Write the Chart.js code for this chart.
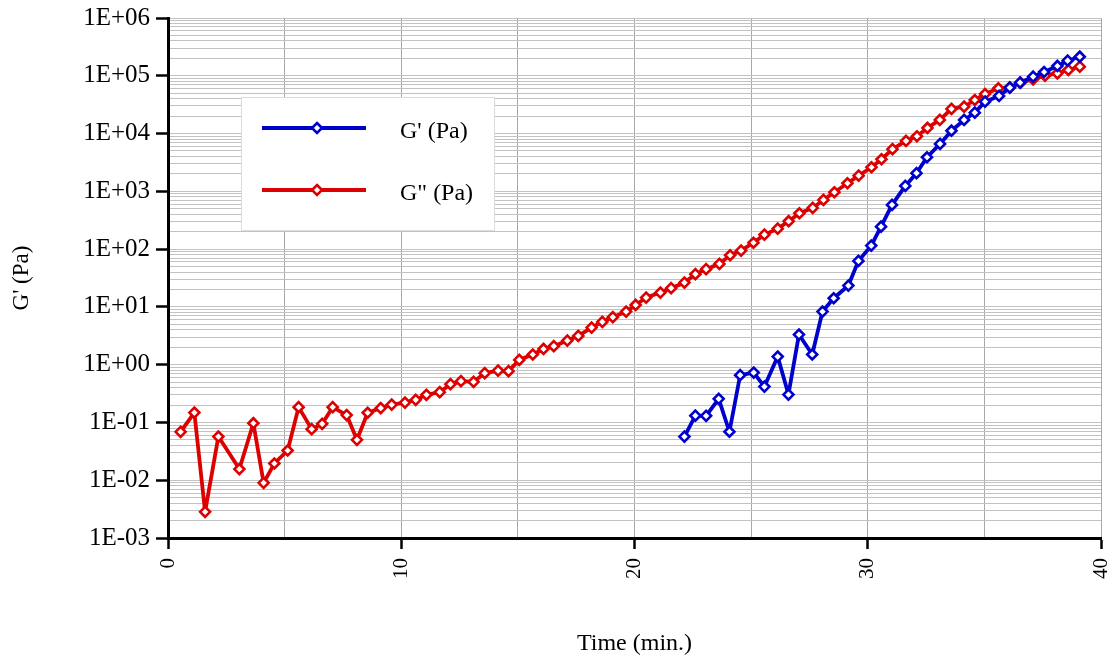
<!DOCTYPE html>
<html>
<head>
<meta charset="utf-8">
<script src="https://cdn.jsdelivr.net/npm/chart.js@4/dist/chart.umd.min.js"></script>
<style>
  html, body { margin: 0; padding: 0; background: #fff; }
  #wrap { width: 1116px; height: 658px; }
</style>
</head>
<body>
<div id="wrap"><canvas id="c" width="1116" height="658"></canvas></div>
<script>
// G' (Pa) - storage modulus
const gpTime = [22.14, 22.61, 23.07, 23.61, 24.07, 24.53, 25.11, 25.57, 26.14, 26.60, 27.05, 27.62, 28.06, 28.54,
  29.17, 29.60, 30.15, 30.57, 31.04, 31.61, 32.09, 32.54, 33.10, 33.59, 34.13, 34.59, 35.03, 35.63, 36.09, 36.53,
  37.09, 37.56, 38.13, 38.57, 39.09];
const gpVal = [0.057, 0.131, 0.130, 0.256, 0.069, 0.658, 0.729, 0.418, 1.38, 0.304, 3.32, 1.50, 8.30, 14.1,
  23.4, 62.5, 115, 245, 582, 1240, 2060, 3890, 6610, 11200, 17200, 23000, 35600, 44800, 62200, 76000,
  96400, 116400, 147900, 182400, 213800];

// G'' (Pa) - loss modulus
const gppTime = [0.54, 1.13, 1.59, 2.16, 3.06, 3.66, 4.10, 4.56, 5.13, 5.60, 6.16, 6.61, 7.06, 7.66, 8.10, 8.56,
  9.12, 9.59, 10.16, 10.62, 11.08, 11.65, 12.11, 12.56, 13.10, 13.58, 14.15, 14.60, 15.06, 15.64, 16.10, 16.54,
  17.12, 17.59, 18.16, 18.62, 19.07, 19.64, 20.05, 20.50, 21.11, 21.57, 22.14, 22.61, 23.07, 23.64, 24.10, 24.57,
  25.10, 25.57, 26.14, 26.61, 27.07, 27.64, 28.10, 28.57, 29.13, 29.61, 30.16, 30.59, 31.06, 31.64, 32.11, 32.56,
  33.09, 33.59, 34.13, 34.59, 35.03, 35.60, 36.09, 36.55, 37.09, 37.60, 38.13, 38.60, 39.09];
const gppVal = [0.0687, 0.148, 0.00284, 0.057, 0.0156, 0.097, 0.0090, 0.0195, 0.0327, 0.184, 0.0766, 0.0946, 0.184, 0.134, 0.050, 0.147,
  0.177, 0.204, 0.221, 0.246, 0.301, 0.334, 0.460, 0.518, 0.504, 0.713, 0.791, 0.773, 1.21, 1.50, 1.87, 2.09,
  2.61, 3.15, 4.39, 5.50, 6.64, 8.30, 10.8, 14.5, 17.7, 21.1, 26.3, 36.8, 44.9, 55.5, 78.3, 94.2,
  129, 178, 226, 304, 418, 516, 710, 964, 1380, 1870, 2610, 3590, 5360, 7450, 8970, 12500,
  17200, 26700, 29200, 38100, 48400, 60800, 63100, 75900, 86900, 100500, 110400, 126000, 143600];

const seriesNames = ["G' (Pa)", 'G" (Pa)'];
const seriesColors = ['#0000cc', '#dd0000'];

const FONT = 'Liberation Serif';

function fmtExp(v) {
    const e = Math.round(Math.log10(v));
    return '1E' + (e < 0 ? '-' : '+') + String(Math.abs(e)).padStart(2, '0');
}

function makeSet(label, color, xs, ys) {
    return {
        label: label,
        data: xs.map((x, i) => ({ x: x, y: ys[i] })),
        borderColor: color,
        backgroundColor: color,
        borderWidth: 3.8,
        borderJoinStyle: 'round',
        tension: 0,
        pointStyle: 'rectRot',
        pointRadius: 5,
        pointBorderWidth: 2.6,
        pointBorderColor: color,
        pointBackgroundColor: '#fff'
    };
}

// legend box drawn inside the plot, like the original
const legendBox = {
    id: 'legendBox',
    afterDraw(chart) {
        const ctx = chart.ctx;
        ctx.save();
        ctx.fillStyle = '#fff';
        ctx.fillRect(241, 97, 254, 134);
        ctx.strokeStyle = '#dcdcdc';
        ctx.lineWidth = 1;
        ctx.strokeRect(241.5, 97.5, 253, 133);
        const rows = [128, 190];
        rows.forEach((y, i) => {
            const col = seriesColors[i];
            ctx.strokeStyle = col;
            ctx.lineWidth = 3.8;
            ctx.beginPath();
            ctx.moveTo(262, y);
            ctx.lineTo(366, y);
            ctx.stroke();
            ctx.beginPath();
            ctx.moveTo(317, y - 5);
            ctx.lineTo(322, y);
            ctx.lineTo(317, y + 5);
            ctx.lineTo(312, y);
            ctx.closePath();
            ctx.fillStyle = '#fff';
            ctx.fill();
            ctx.lineWidth = 2.6;
            ctx.stroke();
            ctx.fillStyle = '#000';
            ctx.font = '24px "' + FONT + '"';
            ctx.textBaseline = 'middle';
            ctx.textAlign = 'left';
            ctx.fillText(seriesNames[i], 400, y + 4);
        });
        ctx.restore();
    }
};

new Chart(document.getElementById('c'), {
    type: 'line',
    data: {
        datasets: [
            makeSet(seriesNames[0], seriesColors[0], gpTime, gpVal),
            makeSet(seriesNames[1], seriesColors[1], gppTime, gppVal)
        ]
    },
    plugins: [legendBox],
    options: {
        responsive: false,
        animation: false,
        layout: { padding: { left: 0, top: 18, right: 15, bottom: 0 } },
        plugins: {
            legend: { display: false },
            tooltip: { enabled: false }
        },
        scales: {
            x: {
                type: 'linear',
                min: 0,
                max: 40,
                afterFit: s => { s.height = 120; s.paddingLeft = 0; s.paddingRight = 0; },
                border: { display: true, color: '#000', width: 3 },
                grid: {
                    color: '#a8a8a8',
                    lineWidth: 1,
                    tickLength: 11,
                    tickWidth: 2.5,
                    tickColor: c => (c.tick && c.tick.value % 10 === 0) ? '#000' : 'rgba(0,0,0,0)'
                },
                ticks: {
                    stepSize: 5,
                    autoSkip: false,
                    minRotation: 90,
                    maxRotation: 90,
                    padding: 9,
                    color: '#000',
                    font: { family: FONT, size: 21 },
                    callback: v => (v % 10 === 0 ? String(v) : '')
                },
                title: {
                    display: true,
                    text: 'Time (min.)',
                    color: '#000',
                    font: { family: FONT, size: 24 },
                    padding: { top: 0, bottom: 0 }
                }
            },
            y: {
                type: 'logarithmic',
                min: 1e-3,
                max: 1e6,
                afterFit: s => { s.width = 168; s.paddingTop = 0; s.paddingBottom = 0; },
                afterBuildTicks: s => {
                    const t = [];
                    for (let e = -3; e <= 5; e++) {
                        for (let m = 1; m <= 9; m++) {
                            t.push({ value: m * Math.pow(10, e), major: m === 1 });
                        }
                    }
                    t.push({ value: 1e6, major: true });
                    s.ticks = t;
                },
                border: { display: true, color: '#000', width: 3 },
                grid: {
                    color: '#c2c2c2',
                    lineWidth: 1,
                    tickLength: 12,
                    tickWidth: 2.5,
                    tickColor: c => (c.tick && c.tick.major) ? '#000' : 'rgba(0,0,0,0)'
                },
                ticks: {
                    autoSkip: false,
                    padding: 6,
                    color: '#000',
                    font: { family: FONT, size: 25 },
                    callback: (v, i, ticks) => (ticks[i] && ticks[i].major ? fmtExp(v) : '')
                },
                title: {
                    display: true,
                    text: "G' (Pa)",
                    color: '#000',
                    font: { family: FONT, size: 23 },
                    padding: { top: 8, bottom: 0 }
                }
            }
        }
    }
});
</script>
</body>
</html>
